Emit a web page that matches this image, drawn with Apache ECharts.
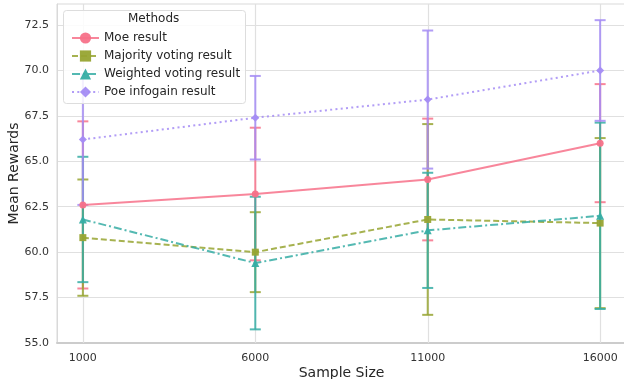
<!DOCTYPE html>
<html><head><meta charset="utf-8">
<script src="https://cdn.jsdelivr.net/npm/echarts@6/dist/echarts.min.js"></script>
<style>html,body{margin:0;padding:0;background:#fff}#c{width:624px;height:379px}</style>
</head><body><div id="c"></div>
<script>
const sampleSizes = [1000, 6000, 11000, 16000];
const moeMean = [62.6, 63.2, 64.0, 66.0];
const moeErr = [4.6, 3.65, 3.35, 3.25];
const majMean = [60.8, 60.0, 61.8, 61.6];
const majErr = [3.2, 2.2, 5.25, 4.68];
const wtdMean = [61.8, 59.4, 61.2, 62.0];
const wtdErr = [3.45, 3.65, 3.17, 5.13];
const poeMean = [66.2, 67.4, 68.4, 70.0];
const poeErr = [3.6, 2.3, 3.8, 2.77];
const yTicks = [55.0, 57.5, 60.0, 62.5, 65.0, 67.5, 70.0, 72.5];

const names = ['Moe result', 'Majority voting result', 'Weighted voting result', 'Poe infogain result'];
const colors = ['#f77189', '#97a431', '#36ada4', '#a48cf4'];
const means = [moeMean, majMean, wtdMean, poeMean];
const errs = [moeErr, majErr, wtdErr, poeErr];
const symbols = ['circle', 'rect', 'triangle', 'diamond'];
const symSizes = [7, 7, 8, 8];
const lineTypes = ['solid', [6, 3], [8, 3, 2, 3], [2, 3.3]];
const font = 'DejaVu Sans';

const chart = echarts.init(document.getElementById('c'));
const series = [];
// vertical grid lines at the x ticks
series.push({
  type: 'custom', silent: true, z: 1,
  data: sampleSizes.map(x => [x]),
  encode: { x: 0 },
  renderItem: (params, api) => {
    const cs = params.coordSys;
    const p = api.coord([api.value(0), 60]);
    const x = Math.round(p[0]) + 0.5;
    return { type: 'line', shape: { x1: x, y1: cs.y, x2: x, y2: cs.y + cs.height },
      style: { stroke: '#e0e0e0', lineWidth: 1.2 } };
  }
});
names.forEach((n, i) => {
  series.push({
    type: 'custom', name: n + ' err', silent: true, z: 2,
    data: sampleSizes.map((x, k) => [x, means[i][k] - errs[i][k], means[i][k] + errs[i][k]]),
    renderItem: (params, api) => {
      const lo = api.coord([api.value(0), api.value(1)]);
      const hi = api.coord([api.value(0), api.value(2)]);
      const w = 5.5;
      const st = { stroke: colors[i], lineWidth: 2, opacity: 0.85 };
      return { type: 'group', children: [
        { type: 'line', shape: { x1: lo[0], y1: lo[1], x2: hi[0], y2: hi[1] }, style: st },
        { type: 'line', shape: { x1: lo[0] - w, y1: lo[1], x2: lo[0] + w, y2: lo[1] }, style: st },
        { type: 'line', shape: { x1: hi[0] - w, y1: hi[1], x2: hi[0] + w, y2: hi[1] }, style: st }
      ]};
    },
    encode: { x: 0, y: [1, 2] }
  });
});
names.forEach((n, i) => {
  series.push({
    type: 'line', name: n, z: 3,
    data: sampleSizes.map((x, k) => [x, means[i][k]]),
    symbol: symbols[i], symbolSize: symSizes[i], showSymbol: true,
    itemStyle: { color: colors[i], opacity: 0.95 },
    lineStyle: { color: colors[i], width: 2, type: lineTypes[i], opacity: 0.85 },
    emphasis: { disabled: true }
  });
});

chart.setOption({
  animation: false,
  backgroundColor: '#fff',
  grid: { left: 57, right: -2, top: 4, bottom: 36, outerBoundsMode: 'none', containLabel: false,
    show: true, borderColor: '#d9d9d9', borderWidth: 1 },
  xAxis: {
    type: 'value', min: 250, max: 16750,
    name: 'Sample Size', nameLocation: 'middle', nameGap: 23, nameMoveOverlap: false,
    nameTextStyle: { fontFamily: font, fontSize: 14, color: '#262626' },
    axisLine: { show: true, lineStyle: { color: '#cccccc', width: 2 } },
    axisTick: { show: false, customValues: sampleSizes },
    axisLabel: { customValues: sampleSizes, fontFamily: font, fontSize: 11, color: '#333', margin: 10,
      formatter: v => String(v) },
    splitLine: { show: false }
  },
  yAxis: {
    type: 'value', min: 55, max: 73.66,
    name: 'Mean Rewards', nameLocation: 'middle', nameGap: 36, nameMoveOverlap: false,
    nameTextStyle: { fontFamily: font, fontSize: 14, color: '#262626' },
    axisLine: { show: true, lineStyle: { color: '#d9d9d9', width: 1 } },
    axisTick: { show: false, customValues: yTicks },
    axisLabel: { customValues: yTicks, fontFamily: font, fontSize: 11, color: '#333', margin: 8,
      formatter: v => v.toFixed(1) },
    splitLine: { show: true, lineStyle: { color: '#e0e0e0', width: 1.2 } }
  },
  legend: {
    data: names, orient: 'vertical', left: 66, top: 26, itemGap: 4, z: 60,
    itemWidth: 27, itemHeight: 14,
    textStyle: { fontFamily: font, fontSize: 12, color: '#262626', height: 14, lineHeight: 14, padding: [0, 0, 0, 0] },
    selectedMode: false
  },
  graphic: [
    { type: 'rect', left: 63, top: 10, shape: { width: 182, height: 93, r: 3 }, z: 50,
      style: { fill: 'rgba(255,255,255,0.85)', stroke: '#dddddd', lineWidth: 1 } },
    { type: 'text', left: 128, top: 13, z: 55,
      style: { text: 'Methods', fontFamily: font, fontSize: 12, fill: '#262626' } }
  ],
  series: series
});
</script></body></html>
